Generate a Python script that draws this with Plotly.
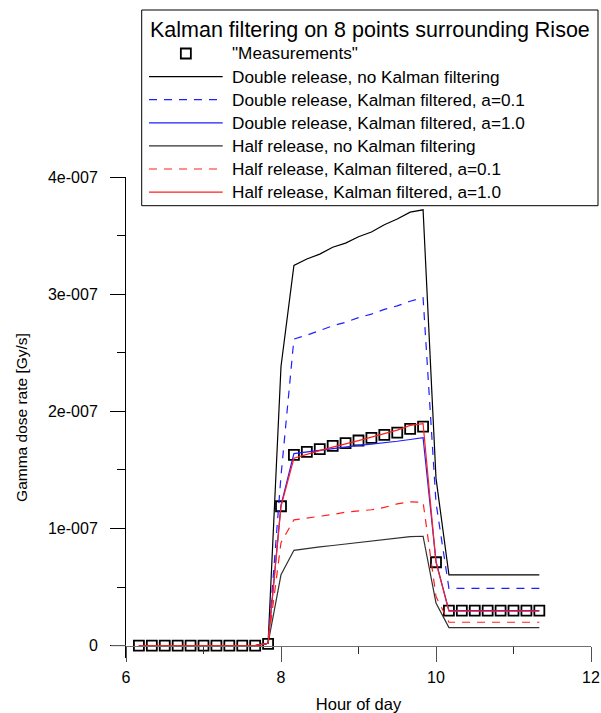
import numpy as np
import plotly.graph_objects as go

SCALE = 1e-7  # values below are in units of 1e-7 Gy/s

hours = [6.1667, 6.3333, 6.5, 6.6667, 6.8333, 7.0, 7.1667, 7.3333, 7.5, 7.6667,
         7.8333, 8.0, 8.1667, 8.3333, 8.5, 8.6667, 8.8333, 9.0, 9.1667, 9.3333,
         9.5, 9.6667, 9.8333, 10.0, 10.1667, 10.3333, 10.5, 10.6667, 10.8333,
         11.0, 11.1667, 11.3333]

measurements = [0, 0, 0, 0, 0, 0, 0, 0, 0, 0,
                0.015, 1.19, 1.629, 1.654, 1.677, 1.705, 1.729, 1.751, 1.774, 1.799,
                1.819, 1.851, 1.870, 0.712, 0.30, 0.30, 0.30, 0.30, 0.30,
                0.30, 0.30, 0.30]

double_no_kalman = [0, 0, 0, 0, 0, 0, 0, 0, 0, 0,
                    0.02, 2.383, 3.245, 3.30, 3.342, 3.40, 3.436, 3.49, 3.53, 3.593,
                    3.641, 3.70, 3.72, 1.43, 0.604, 0.604, 0.604, 0.604, 0.604,
                    0.604, 0.604, 0.604]

double_kalman_01 = [0, 0, 0, 0, 0, 0, 0, 0, 0, 0,
                    0.02, 1.45, 2.617, 2.65, 2.69, 2.73, 2.76, 2.80, 2.83, 2.87,
                    2.90, 2.94, 2.97, 1.22, 0.49, 0.49, 0.49, 0.49, 0.49,
                    0.49, 0.49, 0.49]

double_kalman_10 = [0, 0, 0, 0, 0, 0, 0, 0, 0, 0,
                    0.02, 1.20, 1.64, 1.655, 1.67, 1.685, 1.70, 1.71, 1.72, 1.73,
                    1.745, 1.76, 1.775, 0.72, 0.30, 0.30, 0.30, 0.30, 0.30,
                    0.30, 0.30, 0.30]

half_no_kalman = [0, 0, 0, 0, 0, 0, 0, 0, 0, 0,
                  0.02, 0.605, 0.814, 0.831, 0.844, 0.855, 0.867, 0.88, 0.893, 0.905,
                  0.916, 0.931, 0.934, 0.365, 0.155, 0.155, 0.155, 0.155, 0.155,
                  0.155, 0.155, 0.155]

half_kalman_01 = [0, 0, 0, 0, 0, 0, 0, 0, 0, 0,
                  0.02, 0.88, 1.074, 1.09, 1.10, 1.12, 1.14, 1.15, 1.16, 1.18,
                  1.21, 1.228, 1.225, 0.42, 0.20, 0.20, 0.20, 0.20, 0.20,
                  0.20, 0.20, 0.20]

half_kalman_10 = [0, 0, 0, 0, 0, 0, 0, 0, 0, 0,
                  0.02, 1.19, 1.60, 1.635, 1.665, 1.695, 1.72, 1.75, 1.78, 1.81,
                  1.84, 1.88, 1.895, 0.71, 0.295, 0.295, 0.295, 0.295, 0.295,
                  0.295, 0.295, 0.295]

legend_title = "Kalman filtering on 8 points surrounding Risoe"
measurement_label = '"Measurements"'
series_labels = ["Double release, no Kalman filtering",
                 "Double release, Kalman filtered, a=0.1",
                 "Double release, Kalman filtered, a=1.0",
                 "Half release, no Kalman filtering",
                 "Half release, Kalman filtered, a=0.1",
                 "Half release, Kalman filtered, a=1.0"]
series_values = [double_no_kalman, double_kalman_01, double_kalman_10,
                 half_no_kalman, half_kalman_01, half_kalman_10]

y_tickvals = [0, 1, 2, 3, 4]
y_ticktext = ["0", "1e-007", "2e-007", "3e-007", "4e-007"]
y_minor = [0.5, 1.5, 2.5, 3.5]
x_tickvals = [6, 8, 10, 12]
x_minor = [7, 9, 11]

# styles (kept separate from data)
series_colors = ["black", "#1f1fff", "#1f1fff", "#303030", "#ff1f1f", "#ff1f1f"]
series_dashes = ["solid", "8px,7px", "solid", "solid", "8px,7px", "solid"]
FONT = "Arial, 'Liberation Sans', sans-serif"
AXIS_GRAY = "#707070"

W, H = 601, 713
ML, MR, MT, MB = 126, 10, 177, 55
PW, PH = W - ML - MR, H - MT - MB


def sc(v):
    return np.array(v, dtype=float) * SCALE


def px(xp):
    return (xp - ML) / PW


def py(yp):
    return (H - MB - yp) / PH


fig = go.Figure()
fig.add_trace(go.Scatter(
    x=hours, y=sc(measurements), mode="markers", name=measurement_label,
    marker=dict(symbol="square-open", size=10, color="black",
                line=dict(width=1.8, color="black"))))
for name, vals, col, dash in zip(series_labels, series_values,
                                 series_colors, series_dashes):
    fig.add_trace(go.Scatter(x=hours, y=sc(vals), mode="lines", name=name,
                             line=dict(color=col, width=1.2, dash=dash)))

shapes = []
annotations = []
# gray horizontal axis line continues over the zero tick of the y axis
shapes.append(dict(type="line", xref="paper", yref="y",
                   x0=px(111), x1=0, y0=0, y1=0,
                   line=dict(color=AXIS_GRAY, width=1), layer="above"))

# ---- legend box drawn by hand to match the original spacing ----
box_l, box_r, box_t, box_b = 141.7, 598, 10, 205.7
shapes.append(dict(type="rect", xref="paper", yref="paper",
                   x0=px(box_l), x1=px(box_r), y0=py(box_b), y1=py(box_t),
                   line=dict(color="black", width=1), fillcolor="white",
                   layer="above"))
annotations.append(dict(xref="paper", yref="paper", x=px(148), y=py(30),
                        xanchor="left", yanchor="middle", showarrow=False,
                        text=legend_title,
                        font=dict(family=FONT, size=21.5, color="black")))
row0, row_step = 53.5, 23.1
sym_l, sym_r, text_l = 149, 222.7, 229.5
# measurement marker sample
cx, cy, hs = (sym_l + sym_r) / 2, row0, 5
shapes.append(dict(type="rect", xref="paper", yref="paper",
                   x0=px(cx - hs), x1=px(cx + hs), y0=py(cy + hs), y1=py(cy - hs),
                   line=dict(color="black", width=1.8), fillcolor="rgba(0,0,0,0)",
                   layer="above"))
annotations.append(dict(xref="paper", yref="paper", x=px(text_l), y=py(row0),
                        xanchor="left", yanchor="middle", showarrow=False,
                        text=measurement_label,
                        font=dict(family=FONT, size=17.2, color="black")))
for i, (name, col, dash) in enumerate(zip(series_labels, series_colors,
                                          series_dashes)):
    yy = row0 + row_step * (i + 1)
    shapes.append(dict(type="line", xref="paper", yref="paper",
                       x0=px(sym_l), x1=px(sym_r), y0=py(yy), y1=py(yy),
                       line=dict(color=col, width=1.2, dash=dash), layer="above"))
    annotations.append(dict(xref="paper", yref="paper", x=px(text_l), y=py(yy),
                            xanchor="left", yanchor="middle", showarrow=False,
                            text=name,
                            font=dict(family=FONT, size=17.2, color="black")))

y_lo, y_hi = -0.105 * SCALE, 4.0 * SCALE
zero_pos = (0 - y_lo) / (y_hi - y_lo)

fig.update_layout(
    width=W, height=H,
    margin=dict(l=ML, r=MR, t=MT, b=MB, autoexpand=False),
    paper_bgcolor="white", plot_bgcolor="white",
    font=dict(family=FONT, size=16, color="black"),
    showlegend=False,
    shapes=shapes, annotations=annotations,
    xaxis=dict(
        range=[6, 12], anchor="free", position=zero_pos, automargin=False,
        showline=True, linecolor=AXIS_GRAY, linewidth=1,
        ticks="outside", ticklen=15, tickcolor="#505050", tickwidth=1,
        tickvals=x_tickvals, ticktext=[str(v) for v in x_tickvals],
        minor=dict(tickvals=x_minor, ticks="outside", ticklen=7,
                   tickcolor="#303030", tickwidth=1),
        showgrid=False, zeroline=False,
        tickfont=dict(size=16),
        ticklabelstandoff=2,
        title=dict(text="Hour of day", font=dict(size=16.5), standoff=13),
    ),
    yaxis=dict(
        range=[y_lo, y_hi], automargin=False,
        showline=True, linecolor="black", linewidth=1,
        ticks="outside", ticklen=15, tickcolor="black", tickwidth=1,
        tickvals=list(sc(y_tickvals)), ticktext=y_ticktext,
        minor=dict(tickvals=list(sc(y_minor)), ticks="outside", ticklen=8,
                   tickcolor="black", tickwidth=1),
        showgrid=False, zeroline=False,
        tickfont=dict(size=16),
        ticklabelstandoff=9,
        title=dict(text="Gamma dose rate [Gy/s]", font=dict(size=15.5), standoff=16),
    ),
)

fig.write_html("out.html")
